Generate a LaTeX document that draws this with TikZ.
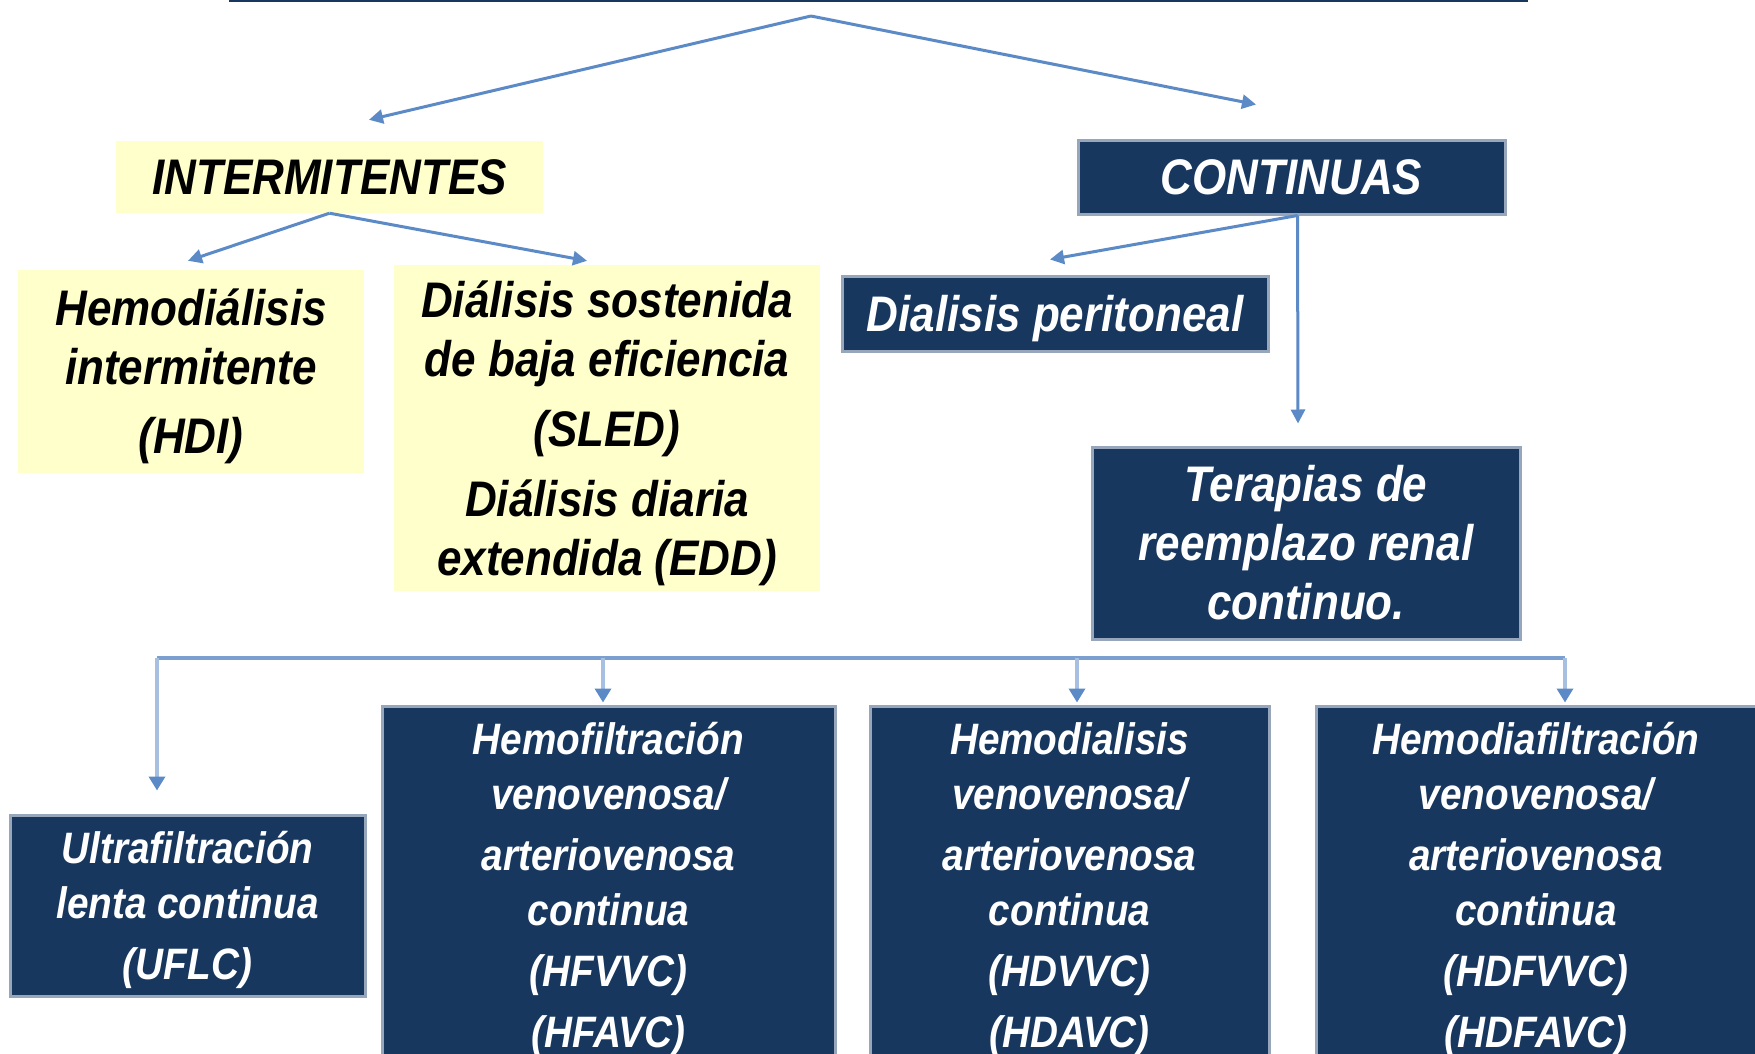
\documentclass[tikz,border=0pt]{standalone}
\usepackage{fontspec}
\setmainfont{Liberation Sans}[FakeStretch=0.88]
\usetikzlibrary{arrows.meta}
\definecolor{navybg}{HTML}{17375E}
\definecolor{navyedge}{HTML}{98A6BC}
\definecolor{paleyellow}{HTML}{FFFFCC}
\definecolor{linkblue}{HTML}{5B8AC6}
\definecolor{busblue}{HTML}{7BA0D0}
\definecolor{dropblue}{HTML}{A7C0E2}
% last line of a box without its depth, so the text sits centred
\newcommand\flatline[1]{\raisebox{0pt}[\height][0pt]{#1}}
\begin{document}
\begin{tikzpicture}[x=1pt, y=-1pt,
		yelbox/.style={fill=paleyellow, text=black, align=center, inner sep=0pt},
		navybox/.style={fill=navybg, draw=navyedge, line width=3pt, text=white, align=center, inner sep=0pt},
		bigtext/.style={font=\bfseries\itshape\fontsize{50}{59}\selectfont},
		smalltext/.style={font=\bfseries\itshape\fontsize{44}{55}\selectfont},
		link/.style={draw=linkblue, line width=3pt, -{Triangle[length=14pt, width=14pt]}},
		drop/.style={draw=dropblue, line width=4pt, -{Triangle[length=14pt, width=16pt, color=linkblue]}}]
		\useasboundingbox (0,0) rectangle (1755,1054);
		\clip (0,0) rectangle (1755,1054);
		\fill[white] (0,0) rectangle (1755,1054);
		\node[fill=navybg, minimum width=1299pt, minimum height=62pt] (title) at (878.5,-29) {};
		\coordinate (split) at (811,16);
			\node[yelbox, bigtext, minimum width=427pt, minimum height=72pt] (inter) at (329.5,177) {INTERMITENTES};
			\node[navybox, bigtext, minimum width=427pt, minimum height=74pt] (cont) at (1291.5,177) {CONTINUAS};
			\node[yelbox, bigtext, minimum width=346pt, minimum height=203pt] (hdi) at (191,371.5) {Hemodiálisis\\intermitente\\[10pt]\flatline{(HDI)}};
			\node[yelbox, bigtext, minimum width=426pt, minimum height=326pt] (sled) at (607,428) {Diálisis sostenida\\de baja eficiencia\\[11pt](SLED)\\[11pt]Diálisis diaria\\\flatline{extendida (EDD)}};
			\node[navybox, bigtext, minimum width=426pt, minimum height=75pt] (perit) at (1055,313.5) {\flatline{Dialisis peritoneal}};
			\node[navybox, bigtext, minimum width=428pt, minimum height=192pt] (terap) at (1306,543) {Terapias de\\reemplazo renal\\continuo.};
			\node[navybox, smalltext, minimum width=355pt, minimum height=181pt] (uflc) at (187.5,905.5) {Ultrafiltración\\lenta continua\\[6pt]\flatline{(UFLC)}};
			\node[navybox, smalltext, minimum width=453pt, minimum height=358pt] (hfvvc) at (608.5,885) {Hemofiltración\\venovenosa/\\[6pt]arteriovenosa\\continua\\[6pt](HFVVC)\\[6pt]\flatline{(HFAVC)}};
			\node[navybox, smalltext, minimum width=399pt, minimum height=358pt] (hdvvc) at (1069.5,885) {Hemodialisis\\venovenosa/\\[6pt]arteriovenosa\\continua\\[6pt](HDVVC)\\[6pt]\flatline{(HDAVC)}};
			\node[navybox, smalltext, minimum width=440pt, minimum height=358pt] (hdfvvc) at (1536,885) {Hemodiafiltración\\venovenosa/\\[6pt]arteriovenosa\\continua\\[6pt](HDFVVC)\\[6pt]\flatline{(HDFAVC)}};
		\draw[link] (split) -- ([xshift=39.5pt, yshift=21pt]inter.north);
		\draw[link] (split) -- ([xshift=-35.5pt, yshift=34pt]cont.north);
		\draw[link] (inter.south) -- ([xshift=-3pt, yshift=9pt]hdi.north);
		\draw[link] (inter.south) -- ([xshift=-20pt, yshift=4pt]sled.north);
		\draw[link] ([xshift=6pt]cont.south) -- ([xshift=-5pt, yshift=15pt]perit.north);
		\draw[link] ([xshift=6pt]cont.south) -- ([xshift=-8pt, yshift=22pt]terap.north);
		\coordinate (b1) at (157,658);
		\coordinate (b2) at (603,658);
		\coordinate (b3) at (1077,658);
		\coordinate (b4) at (1565,658);
		\draw[busblue, line width=4.5pt] (b1) -- (b4);
		\draw[drop, shorten >=23pt] (b1) -- (b1 |- uflc.north);
		\draw[drop, shorten >=2pt] (b2) -- (b2 |- hfvvc.north);
		\draw[drop, shorten >=2pt] (b3) -- (b3 |- hdvvc.north);
		\draw[drop, shorten >=2pt] (b4) -- (b4 |- hdfvvc.north);
\end{tikzpicture}
\end{document}
